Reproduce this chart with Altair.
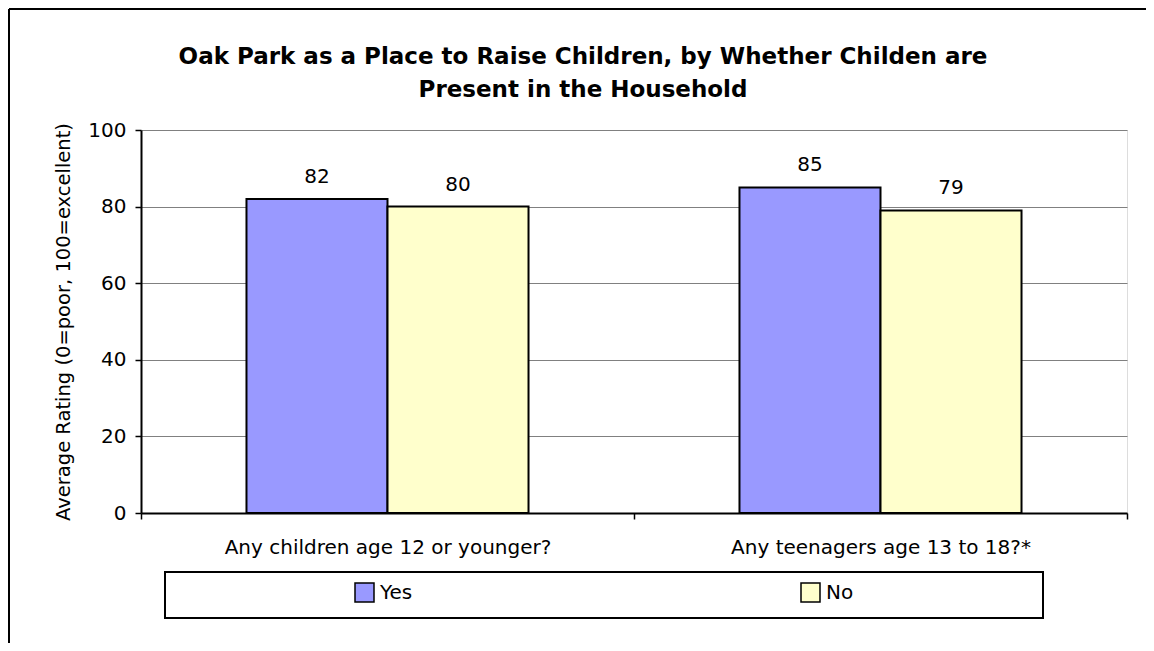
import altair as alt
import pandas as pd

categories = ["Any children age 12 or younger?", "Any teenagers age 13 to 18?*"]
series = ["Yes", "No"]
yes_values = [82, 85]
no_values = [80, 79]
series_colors = ["#9999FF", "#FFFFCC"]
y_ticks = [0, 20, 40, 60, 80, 100]
title_lines = ["Oak Park as a Place to Raise Children, by Whether Childen are",
               "Present in the Household"]
y_title = "Average Rating (0=poor, 100=excellent)"

rows = []
for i, c in enumerate(categories):
    rows.append({"category": c, "group": "Yes", "value": yes_values[i]})
    rows.append({"category": c, "group": "No", "value": no_values[i]})
df = pd.DataFrame(rows)

FONT = "DejaVu Sans"

x_enc = alt.X("category:N", sort=categories,
              scale=alt.Scale(paddingInner=0, paddingOuter=0),
              axis=alt.Axis(title=None, labelAngle=0, labelFontSize=20, labelFont=FONT,
                            labelColor="black", labelPadding=18, tickBand="extent",
                            tickSize=6, tickColor="black", tickWidth=1.5,
                            domainColor="black", domainWidth=2, labelLimit=600))
xoff_enc = alt.XOffset("group:N", sort=series,
                       scale=alt.Scale(paddingInner=0, paddingOuter=0.748))
y_enc = alt.Y("value:Q", scale=alt.Scale(domain=[0, 100], nice=False),
              axis=alt.Axis(title=y_title, values=y_ticks, grid=True, gridColor="#808080",
                            gridWidth=1, labelFontSize=20, labelFont=FONT, labelColor="black",
                            labelPadding=9, tickSize=6, tickColor="black", tickWidth=1.5,
                            domainColor="black", domainWidth=2, titleFontSize=19.5,
                            titleFont=FONT, titleFontWeight="normal", titleColor="black",
                            titlePadding=14))

bars = alt.Chart(df).mark_bar(stroke="black", strokeWidth=2).encode(
    x=x_enc,
    xOffset=xoff_enc,
    y=y_enc,
    fill=alt.Fill("group:N", sort=series,
                  scale=alt.Scale(domain=series, range=series_colors),
                  legend=alt.Legend(title=None, orient="none", legendX=213, legendY=452,
                                    direction="horizontal", columns=2, columnPadding=385,
                                    symbolType="square", symbolSize=361,
                                    symbolStrokeColor="black", symbolStrokeWidth=1.5,
                                    labelFontSize=20, labelFont=FONT, labelColor="black",
                                    labelOffset=5, padding=0)),
)

labels = alt.Chart(df).mark_text(baseline="alphabetic", dy=-16, fontSize=20, font=FONT,
                                 color="black").encode(
    x=alt.X("category:N", sort=categories),
    xOffset=alt.XOffset("group:N", sort=series),
    y=alt.Y("value:Q"),
    text=alt.Text("value:Q"),
)

one = alt.Data(values=[{"k": 1}])

legend_box = alt.Chart(one).mark_rect(fill="white", stroke="black", strokeWidth=2).encode(
    x=alt.value(24), x2=alt.value(902), y=alt.value(442), y2=alt.value(488))

frame_top = alt.Chart(one).mark_rule(color="black", strokeWidth=2).encode(
    x=alt.value(-132), x2=alt.value(1005), y=alt.value(-121))
frame_left = alt.Chart(one).mark_rule(color="black", strokeWidth=2).encode(
    x=alt.value(-132), y=alt.value(-121), y2=alt.value(513))

chart = alt.layer(legend_box, frame_top, frame_left, bars, labels).properties(
    width=986, height=383,
    autosize=alt.AutoSizeParams(type="none"),
    padding={"left": 133, "top": 122, "right": 19, "bottom": 130},
    title=alt.TitleParams(text=title_lines, fontSize=23, font=FONT, fontWeight="bold",
                          color="black", anchor="middle", frame="group", dx=-51,
                          offset=-94, lineHeight=33),
).configure_view(fill="#C0C0C0", stroke="#808080", strokeWidth=1
).configure(background="white")

chart.save("out.html", embed_options={"renderer": "svg", "actions": False})
